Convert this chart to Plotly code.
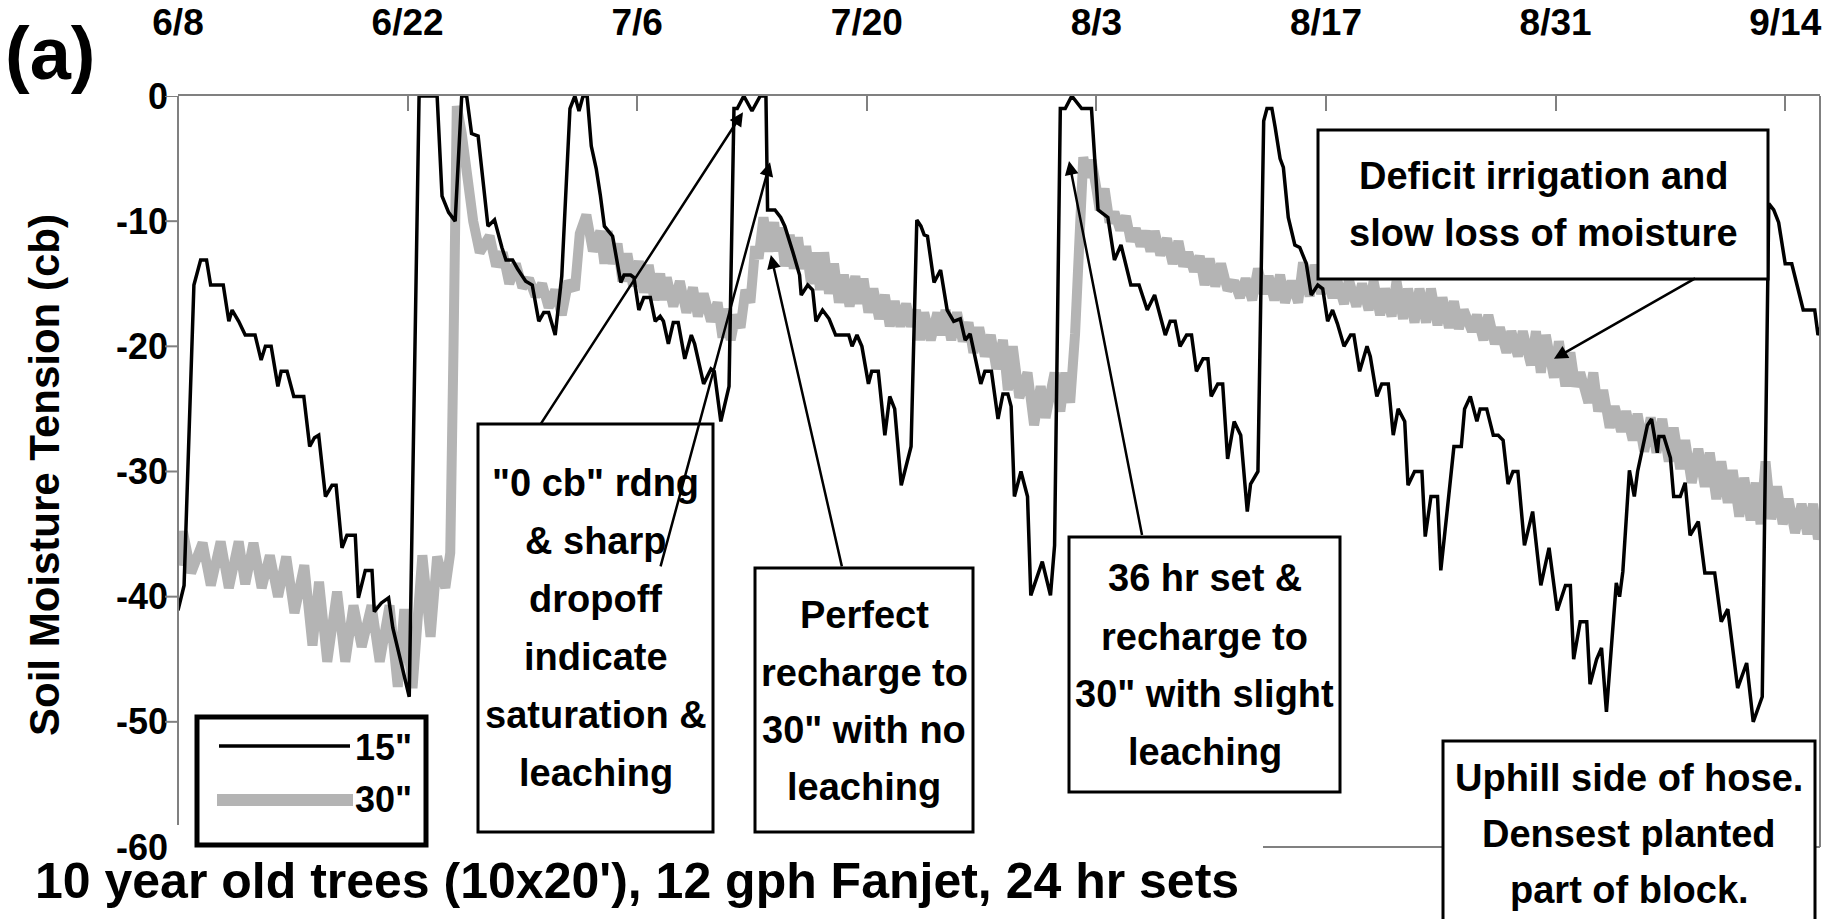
import pandas as pd
import plotly.graph_objects as go

START = pd.Timestamp("2003-06-08")

# 15" tensiometer: days after 6/8 and reading (cb)
day_15 = [0.0, 0.37, 0.97, 1.38, 1.74, 1.99, 2.76, 3.1, 3.3, 3.7, 4.1, 4.7, 5.07, 5.33, 5.68,
          6.09, 6.29, 6.65, 7.06, 7.67, 8.03, 8.32, 8.58, 8.99, 9.39, 9.64, 10.0, 10.3, 10.81,
          11.0, 11.42, 11.83, 11.97, 12.4, 12.84, 13.1, 14.1, 14.7, 15.8, 16.1, 16.5, 16.9,
          17.3, 17.6, 17.9, 18.3, 18.9, 19.3, 19.75, 20.0, 20.4, 20.7, 21.2, 21.6, 22.0, 22.3,
          22.6, 23.0, 23.4, 23.9, 24.2, 24.45, 24.7, 24.95, 25.2, 25.5, 25.75, 26.0, 26.5, 27.0,
          27.2, 27.6, 27.8, 28.1, 28.4, 28.8, 29.1, 29.4, 29.6, 29.9, 30.2, 30.5, 30.9, 31.3,
          31.5, 32.05, 32.5, 32.7, 33.1, 33.6, 33.9, 34.1, 34.5, 35.0, 35.5, 35.85, 35.95, 36.4,
          36.75, 37.0, 37.5, 37.9, 38.0, 38.4, 38.7, 38.9, 39.3, 39.7, 40.1, 40.9, 41.1, 41.4,
          41.7, 42.1, 42.3, 42.7, 43.1, 43.4, 43.7, 44.1, 44.7, 45.05, 45.3, 45.5, 45.7, 46.1,
          46.5, 46.9, 47.3, 47.7, 48.0, 48.3, 48.95, 49.2, 49.6, 50.0, 50.3, 50.6, 50.8, 51.0,
          51.4, 51.8, 52.0, 52.7, 53.2, 53.45, 53.8, 54.1, 54.5, 55.1, 55.7, 55.9, 56.1, 56.7,
          57.1, 57.5, 58.1, 58.6, 59.1, 59.55, 60.2, 60.5, 60.8, 61.1, 61.5, 61.8, 62.1, 62.5,
          62.8, 63.0, 63.4, 63.7, 64.0, 64.4, 64.8, 65.2, 65.4, 65.85, 66.2, 66.4, 66.7, 66.9,
          67.2, 67.4, 67.7, 68.1, 68.4, 68.8, 69.1, 69.5, 69.8, 70.1, 70.4, 70.7, 71.1, 71.5,
          71.7, 72.05, 72.5, 72.7, 73.1, 73.4, 73.8, 74.1, 74.4, 74.8, 75.0, 75.4, 75.85, 76.05,
          76.4, 76.8, 77.0, 77.4, 77.8, 78.25, 78.45, 78.8, 79.2, 79.4, 79.8, 80.2, 80.5, 80.8,
          81.1, 81.4, 81.7, 82.1, 82.6, 83.1, 83.6, 84.1, 84.6, 84.9, 85.1, 85.5, 85.9, 86.1,
          86.5, 86.8, 87.1, 87.7, 87.9, 88.1, 88.5, 88.8, 89.0, 89.6, 89.85, 90.2, 90.3, 90.6,
          91.0, 91.2, 91.6, 91.9, 92.2, 92.7, 93.1, 93.7, 94.1, 94.5, 95.1, 95.65, 96.05, 96.6,
          97.0, 97.3, 97.6, 98.0, 98.4, 99.1, 99.8, 100.0, 100.3]
cb_15 = [-41.1, -39.1, -15.1, -13.1, -13.1, -15.1, -15.1, -18.0, -17.1, -18.0, -19.1, -19.1, -21.1, -20.0, -20.0,
         -23.2, -22.0, -22.0, -24.0, -24.0, -28.0, -27.3, -27.1, -32.0, -31.1, -31.1, -36.1, -35.1, -35.1,
         -40.1, -37.9, -37.9, -41.2, -40.5, -40.1, -42.5, -48.0, 0.0, 0.0, -8.0, -9.3, -10.0,
         0.0, 0.0, -3.0, -3.2, -10.4, -9.9, -12.1, -13.1, -13.1, -13.8, -14.8, -15.1, -18.0, -17.3,
         -17.3, -19.1, -14.4, -1.0, 0.0, -1.2, 0.0, 0.0, -4.0, -5.8, -7.9, -10.4, -11.2, -14.9,
         -14.3, -14.3, -14.5, -17.1, -16.1, -16.1, -18.0, -17.6, -18.0, -19.8, -18.1, -18.1, -21.0, -19.1,
         -19.8, -23.0, -21.8, -22.0, -26.0, -23.2, -1.0, -1.0, 0.0, -1.2, 0.0, 0.0, -9.1, -9.1,
         -9.7, -10.4, -12.5, -14.3, -15.9, -15.1, -15.5, -18.0, -17.1, -17.8, -19.1, -19.1, -20.0, -19.1,
         -20.0, -23.0, -22.0, -22.0, -27.1, -24.0, -25.0, -31.1, -28.0, -9.9, -10.4, -11.1, -11.2, -14.9,
         -13.9, -17.1, -18.0, -17.8, -19.5, -19.0, -23.0, -22.0, -22.0, -25.8, -23.8, -23.8, -24.8, -32.0,
         -30.0, -32.0, -39.9, -37.2, -39.9, -35.9, -1.0, -1.0, 0.0, -1.0, -1.0, -5.5, -9.1, -9.7,
         -13.1, -11.9, -15.1, -15.1, -17.1, -15.9, -19.1, -18.0, -18.0, -20.0, -19.1, -19.1, -22.0, -21.0,
         -21.0, -24.0, -23.0, -23.0, -29.0, -26.0, -27.1, -33.2, -31.0, -30.0, -2.0, -1.0, -1.0, -2.5,
         -5.0, -5.7, -9.7, -11.9, -12.1, -13.4, -15.9, -15.1, -15.4, -18.0, -17.1, -18.2, -20.0, -19.1,
         -19.1, -22.0, -20.0, -20.8, -24.0, -23.0, -23.0, -27.1, -25.0, -26.0, -31.1, -30.0, -30.0, -35.2,
         -32.0, -32.0, -37.9, -33.0, -28.0, -28.0, -25.0, -24.0, -26.0, -25.0, -25.0, -27.1, -27.1, -27.5,
         -31.0, -30.0, -30.0, -35.9, -33.2, -39.1, -36.1, -41.1, -39.1, -39.1, -45.0, -42.0, -42.0, -47.0,
         -45.0, -44.1, -49.2, -38.9, -40.0, -38.0, -29.9, -32.0, -30.0, -26.3, -25.8, -28.5, -27.2, -27.2,
         -28.9, -32.0, -32.0, -30.9, -35.1, -34.0, -38.1, -38.1, -42.0, -41.0, -47.3, -45.3, -50.0, -48.0,
         -8.6, -9.1, -10.1, -13.4, -13.4, -17.1, -17.1, -19.1, -18.0]

# 30" tensiometer: days after 6/8 and reading (cb)
day_30 = [0.0, 0.3, 0.8, 1.5, 2.0, 2.6, 3.1, 3.7, 4.1, 4.6, 5.1, 5.6, 6.1, 6.6, 7.1, 7.7, 8.2, 8.6,
          9.1, 9.7, 10.2, 10.7, 11.2, 11.8, 12.3, 12.9, 13.4, 13.8, 14.3, 14.9, 15.4, 15.8, 16.3,
          16.6, 16.8, 17.0, 17.3, 17.6, 18.0, 18.4, 19.0, 19.4, 19.8, 20.2, 20.6, 21.0, 21.4, 21.8,
          22.2, 22.6, 23.0, 23.4, 23.8, 24.2, 24.5, 24.9, 25.3, 25.75, 26.0, 26.2, 26.5, 26.8, 27.1,
          27.4, 27.75, 28.1, 28.4, 28.7, 29.05, 29.4, 29.6, 29.8, 30.2, 30.6, 31.0, 31.4, 31.7, 32.05,
          32.5, 32.9, 33.2, 33.4, 33.7, 34.0, 34.3, 34.6, 34.9, 35.2, 35.4, 35.7, 36.0, 36.35, 36.55,
          36.75, 37.0, 37.3, 37.55, 37.8, 38.05, 38.3, 38.6, 38.9, 39.15, 39.4, 39.7, 40.0, 40.3, 40.6,
          40.95, 41.3, 41.55, 41.8, 42.1, 42.4, 42.75, 43.1, 43.4, 43.7, 44.05, 44.4, 44.7, 45.0,
          45.25, 45.5, 45.9, 46.3, 46.55, 46.8, 47.15, 47.5, 47.85, 48.2, 48.5, 48.85, 49.2, 49.56,
          49.9, 50.3, 50.6, 50.9, 51.3, 51.8, 52.2, 52.6, 52.9, 53.45, 53.8, 54.1, 54.4, 54.7, 54.95,
          55.2, 55.45, 55.7, 56.0, 56.2, 56.5, 56.8, 57.1, 57.45, 57.8, 58.1, 58.4, 58.7, 59.0, 59.3,
          59.55, 59.9, 60.3, 60.65, 61.0, 61.3, 61.6, 61.95, 62.3, 62.6, 62.9, 63.25, 63.6, 64.0,
          64.4, 64.75, 65.1, 65.5, 65.85, 66.2, 66.5, 66.85, 67.2, 67.5, 67.9, 68.3, 68.6, 69.0,
          69.3, 69.7, 70.0, 70.4, 70.7, 71.1, 71.4, 71.85, 72.2, 72.6, 72.9, 73.3, 73.6, 74.0, 74.3,
          74.7, 75.0, 75.4, 75.7, 76.1, 76.4, 76.8, 77.1, 77.5, 77.8, 78.1, 78.4, 78.9, 79.2, 79.6,
          79.9, 80.3, 80.6, 81.0, 81.3, 81.7, 82.0, 82.5, 82.8, 83.1, 83.4, 83.9, 84.2, 84.6, 84.9,
          85.2, 85.5, 86.0, 86.3, 86.6, 86.9, 87.3, 87.6, 88.0, 88.3, 88.7, 89.0, 89.4, 89.8, 90.15,
          90.5, 90.9, 91.2, 91.6, 91.9, 92.3, 92.7, 93.1, 93.4, 93.8, 94.1, 94.5, 94.8, 95.2, 95.5,
          95.9, 96.2, 96.5, 96.8, 97.15, 97.5, 97.85, 98.2, 98.6, 99.0, 99.35, 99.7, 100.0, 100.3]
cb_30 = [-37.5, -34.8, -38.1, -35.7, -39.1, -35.6, -39.3, -35.6, -39.0, -35.7, -39.3, -36.7, -40.0, -36.8, -41.3, -37.5, -43.9, -38.8,
         -45.2, -39.6, -45.2, -40.7, -44.0, -40.7, -45.2, -40.7, -47.2, -41.0, -47.3, -36.7, -43.2, -36.8, -39.3,
         -36.5, -20.0, -0.8, -3.0, -6.5, -10.0, -12.5, -11.2, -13.6, -12.5, -15.0, -13.4, -15.3, -14.6, -16.0,
         -15.0, -16.9, -15.5, -17.5, -14.8, -15.5, -11.0, -9.5, -12.4, -10.8, -13.4, -10.8, -13.4, -11.8, -14.8,
         -12.6, -15.2, -13.2, -15.7, -13.5, -16.3, -14.2, -16.3, -14.5, -16.8, -14.8, -17.3, -15.3, -17.6, -15.8,
         -18.0, -16.5, -19.3, -17.0, -19.5, -17.5, -18.5, -15.5, -16.5, -12.0, -13.0, -9.7, -12.4, -10.1, -12.4,
         -10.5, -13.6, -11.1, -13.8, -11.3, -13.8, -12.0, -15.0, -12.5, -15.5, -12.5, -15.8, -13.4, -16.5, -14.3,
         -16.8, -14.4, -16.6, -14.6, -17.3, -15.4, -17.8, -15.9, -18.4, -16.4, -18.4, -16.6, -18.4, -17.1,
         -19.5, -17.3, -19.5, -17.3, -19.1, -17.1, -19.5, -17.3, -19.6, -18.1, -20.5, -18.5, -20.8, -19.1,
         -21.8, -19.5, -23.5, -20.0, -24.1, -22.1, -26.3, -23.2, -25.7, -22.1, -25.2, -22.1, -24.5, -19.0, -12.4,
         -4.9, -6.5, -5.1, -7.4, -9.1, -7.4, -10.1, -9.3, -10.7, -9.6, -11.6, -10.6, -12.0, -10.8, -12.4,
         -10.8, -12.7, -11.4, -13.4, -11.6, -13.6, -12.5, -14.0, -12.8, -15.1, -13.0, -15.2, -13.4, -15.5,
         -14.8, -16.1, -14.6, -16.3, -13.8, -15.8, -14.4, -16.3, -14.3, -16.5, -14.8, -16.5, -13.3, -16.0,
         -13.5, -15.8, -14.3, -16.1, -14.8, -16.6, -14.7, -16.8, -15.0, -17.1, -14.8, -17.5, -15.4, -17.6, -14.8,
         -17.8, -15.4, -18.1, -15.4, -18.1, -15.4, -18.3, -16.1, -18.5, -16.4, -18.6, -17.1, -18.8, -17.5, -19.5,
         -17.5, -19.8, -18.5, -20.5, -18.8, -20.8, -18.8, -21.5, -18.8, -22.1, -19.1, -22.5, -19.6, -23.2, -20.5,
         -23.2, -22.1, -24.5, -22.1, -25.2, -23.5, -26.5, -24.8, -26.8, -25.2, -27.5, -25.4, -28.4, -25.7, -28.5,
         -25.8, -29.2, -26.5, -29.8, -27.5, -30.9, -28.2, -31.2, -28.5, -32.2, -29.2, -32.5, -29.9, -33.6, -30.5,
         -33.9, -30.9, -34.2, -29.2, -33.8, -31.2, -34.2, -32.2, -34.9, -32.6, -35.0, -32.6, -35.4, -34.0]

tick_text = ["6/8", "6/22", "7/6", "7/20", "8/3", "8/17", "8/31", "9/14"]
y_ticks = [0, -10, -20, -30, -40, -50, -60]


def to_date(d):
    return START + pd.Timedelta(days=d)


# plot-area geometry in pixels (used to place text boxes and frame pieces)
PL, PR, PT, PB = 178, 1820, 96, 847


def px(X):
    return (X - PL) / (PR - PL)


def py(Y):
    return (PB - Y) / (PB - PT)


FONT = "Liberation Sans, Arial, Helvetica, sans-serif"
AXIS_GRAY = "#808080"
GRAY_30 = "#b4b4b4"


def bold(size):
    return dict(size=size, family=FONT, weight="bold", color="black")


fig = go.Figure()
fig.add_trace(go.Scatter(x=[to_date(d) for d in day_30], y=cb_30, mode="lines", name='30"',
                         line=dict(color=GRAY_30, width=10), showlegend=False))
fig.add_trace(go.Scatter(x=[to_date(d) for d in day_15], y=cb_15, mode="lines", name='15"',
                         line=dict(color="black", width=3.5), showlegend=False))

fig.update_layout(
    width=1840, height=919,
    margin=dict(l=PL, r=1840 - PR, t=PT, b=919 - PB),
    paper_bgcolor="white", plot_bgcolor="white",
    showlegend=False,
    font=dict(family=FONT, color="black"),
)
fig.update_xaxes(
    type="date", side="top", automargin=False,
    range=[to_date(0), to_date((PR - PL) / 16.4)],
    tickvals=[to_date(14 * i) for i in range(len(tick_text))], ticktext=tick_text,
    ticks="inside", ticklen=15, tickwidth=2, tickcolor=AXIS_GRAY,
    showline=True, linecolor=AXIS_GRAY, linewidth=2,
    showgrid=False, zeroline=False,
    tickfont=bold(37),
    ticklabelstandoff=44,
)
fig.update_yaxes(
    range=[-60, 0], tickvals=y_ticks, ticktext=[str(v) for v in y_ticks], automargin=False,
    ticks="", showline=False, showgrid=False, zeroline=False,
    tickfont=bold(36),
    ticklabelstandoff=9,
)

shapes = [
    # frame pieces left visible around the title and notes
    dict(type="line", xref="paper", yref="paper", x0=0, x1=0, y0=py(825), y1=1,
         line=dict(color=AXIS_GRAY, width=2)),
    dict(type="line", xref="paper", yref="paper", x0=1, x1=1, y0=0, y1=1,
         line=dict(color=AXIS_GRAY, width=2)),
    dict(type="line", xref="paper", yref="paper", x0=px(1263), x1=1, y0=0, y1=0,
         line=dict(color=AXIS_GRAY, width=2)),
]
# outside tick marks on the value axis
for v in y_ticks[:-1]:
    shapes.append(dict(type="line", xref="paper", yref="y", x0=px(165), x1=0, y0=v, y1=v,
                       line=dict(color=AXIS_GRAY, width=2)))

annotations = []


def note_box(x0, y0, x1, y1, lines, line_ys, size=38):
    shapes.append(dict(type="rect", xref="paper", yref="paper", layer="above",
                       x0=px(x0), x1=px(x1), y0=py(y1), y1=py(y0),
                       line=dict(color="black", width=3), fillcolor="white"))
    cx = (x0 + x1) / 2
    for txt, yy in zip(lines, line_ys):
        annotations.append(dict(text=txt, xref="paper", yref="paper", x=px(cx), y=py(yy),
                                xanchor="center", yanchor="middle", showarrow=False,
                                font=bold(size)))


note_box(478, 424, 713, 832,
         ['"0 cb" rdng', "& sharp", "dropoff", "indicate", "saturation &", "leaching"],
         [483, 541, 599, 657, 715, 773])
note_box(755, 568, 973, 832,
         ["Perfect", "recharge to", '30" with no', "leaching"],
         [615, 673, 730, 787])
note_box(1069, 537, 1340, 792,
         ["36 hr set &", "recharge to", '30" with slight', "leaching"],
         [578, 637, 694, 752])
note_box(1318, 130, 1768, 279,
         ["Deficit irrigation and", "slow loss of moisture"],
         [176, 233])
note_box(1443, 741, 1815, 940,
         ["Uphill side of hose.", "Densest planted", "part of block."],
         [778, 834, 890])


def arrow(head_d, head_cb, tail_d, tail_cb):
    annotations.append(dict(
        text="", showarrow=True, xref="x", yref="y", axref="x", ayref="y",
        x=to_date(head_d), y=head_cb, ax=to_date(tail_d), ay=tail_cb,
        arrowhead=2, arrowsize=1.1, arrowwidth=2.5, arrowcolor="black"))


arrow(34.45, -1.3, 22.07, -26.3)
arrow(36.1, -5.3, 29.4, -37.7)
arrow(36.15, -12.7, 40.5, -37.7)
arrow(54.33, -5.2, 58.8, -35.2)
arrow(83.9, -21.0, 92.6, -14.5)

# legend
shapes += [
    dict(type="rect", xref="paper", yref="paper", layer="above",
         x0=px(197), x1=px(426), y0=py(845), y1=py(717),
         line=dict(color="black", width=5), fillcolor="white"),
    dict(type="line", xref="paper", yref="paper", layer="above",
         x0=px(219), x1=px(350), y0=py(746), y1=py(746),
         line=dict(color="black", width=3.5)),
    dict(type="line", xref="paper", yref="paper", layer="above",
         x0=px(217), x1=px(353), y0=py(800), y1=py(800),
         line=dict(color=GRAY_30, width=12)),
]
for txt, yy in [('15"', 747), ('30"', 799)]:
    annotations.append(dict(text=txt, xref="paper", yref="paper", x=px(414), y=py(yy),
                            xanchor="right", yanchor="middle", showarrow=False,
                            font=bold(36)))

# axis title, panel letter and caption
annotations.append(dict(text="Soil Moisture Tension (cb)", textangle=-90,
                        xref="paper", yref="paper", x=px(44), y=py(475),
                        xanchor="center", yanchor="middle", showarrow=False,
                        font=bold(42)))
annotations.append(dict(text="(a)", xref="paper", yref="paper", x=px(50), y=py(54),
                        xanchor="center", yanchor="middle", showarrow=False,
                        font=bold(74)))
annotations.append(dict(text="10 year old trees (10x20'), 12 gph Fanjet, 24 hr sets",
                        xref="paper", yref="paper", x=px(637), y=py(881),
                        xanchor="center", yanchor="middle", showarrow=False,
                        font=bold(50)))

fig.update_layout(shapes=shapes, annotations=annotations)
fig.write_html("out.html")
